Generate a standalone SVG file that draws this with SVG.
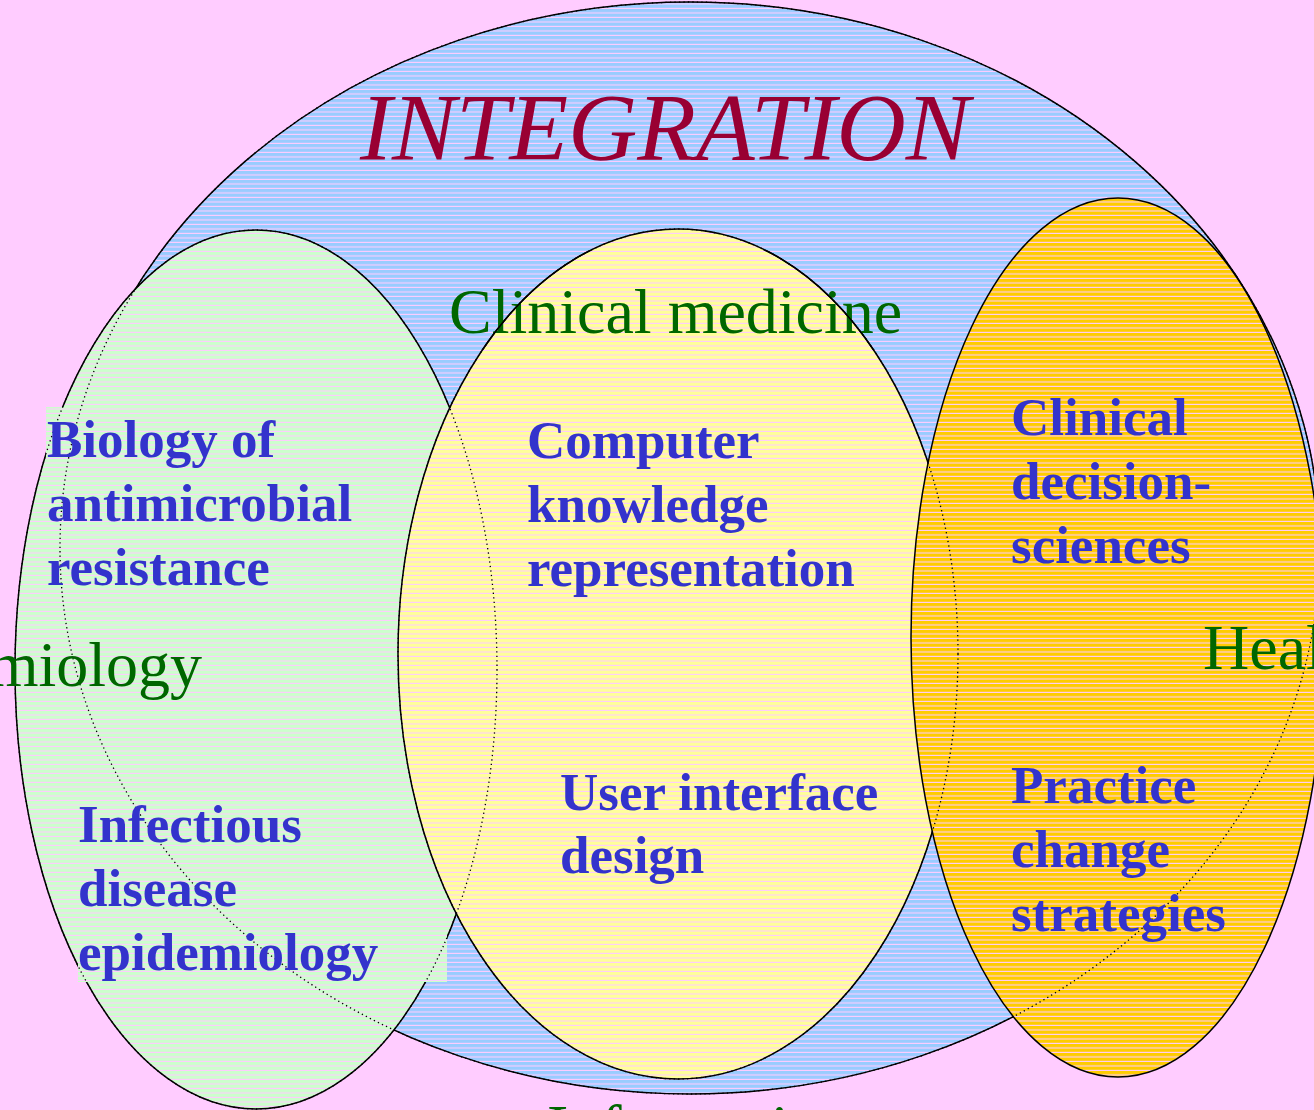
<svg xmlns="http://www.w3.org/2000/svg" width="1314" height="1110" viewBox="0 0 1314 1110">
  <defs>
    <pattern id="pBlue" width="10" height="4.5" patternUnits="userSpaceOnUse">
      <rect width="10" height="4.5" fill="#99CCFF"/>
      <rect y="3.4" width="10" height="1.1" fill="#FFCCFF"/>
    </pattern>
    <pattern id="pGreen" width="10" height="4.5" patternUnits="userSpaceOnUse">
      <rect width="10" height="4.5" fill="#CCFFCC"/>
      <rect y="3.4" width="10" height="1.1" fill="#FFCCFF"/>
    </pattern>
    <pattern id="pYellow" width="10" height="4.5" patternUnits="userSpaceOnUse">
      <rect width="10" height="4.5" fill="#FFFF99"/>
      <rect y="3.4" width="10" height="1.1" fill="#FFCCFF"/>
    </pattern>
    <pattern id="pOrange" width="10" height="4.5" patternUnits="userSpaceOnUse">
      <rect width="10" height="4.5" fill="#FFCC00"/>
      <rect y="3.4" width="10" height="1.1" fill="#FFCCFF"/>
    </pattern>
    <clipPath id="clipTop">
      <rect x="380" y="250" width="600" height="100"/>
    </clipPath>
  </defs>
  <style>
    .outline { stroke: #000000; stroke-width: 1.5; }
    .hidden { fill: none; stroke: #000000; stroke-width: 1.3; stroke-dasharray: 1.3 3.2; }
    .area { font-family: "Liberation Serif", "Times New Roman", serif; font-size: 64px; fill: #006600; }
    .topic { font-family: "Liberation Serif", "Times New Roman", serif; font-size: 53px; font-weight: bold; fill: #3333CC; }
    .title { font-family: "Liberation Serif", "Times New Roman", serif; font-size: 96px; font-style: italic; fill: #990033; }
  </style>

  <rect x="0" y="0" width="1314" height="1110" fill="#FFCCFF"/>

  <g id="integration">
    <ellipse cx="690" cy="548" rx="630" ry="546" fill="url(#pBlue)" class="outline"/>
  </g>

  <g id="epidemiology">
    <ellipse cx="256" cy="669.5" rx="241" ry="439.5" fill="url(#pGreen)" class="outline"/>
    <rect x="46" y="407" width="320" height="190" fill="url(#pGreen)"/>
    <rect x="78" y="795" width="369" height="187" fill="url(#pGreen)"/>
  </g>

  <g id="clinical-medicine">
    <ellipse cx="678" cy="654" rx="280" ry="425" fill="url(#pYellow)" class="outline"/>
  </g>

  <g id="health">
    <ellipse cx="1118" cy="637.5" rx="207" ry="439.5" fill="url(#pOrange)" class="outline"/>
  </g>

  <g id="hidden-outlines">
    <ellipse cx="690" cy="548" rx="630" ry="546" class="hidden"/>
    <ellipse cx="256" cy="669.5" rx="241" ry="439.5" class="hidden"/>
    <ellipse cx="678" cy="654" rx="280" ry="425" class="hidden"/>
  </g>

  <g id="connectors"></g>

  <g id="labels">
    <text class="title" x="360" y="160">INTEGRATION</text>
    <text class="area" x="449" y="333">Clinical medicine</text>
    <text class="area" x="202" y="686" text-anchor="end">Epidemiology</text>
    <text class="area" x="1203" y="669">Health</text>
    <text class="area" x="547" y="1149">Informatics</text>

    <text class="topic" x="47" y="457">Biology of<tspan x="47" y="521">antimicrobial</tspan><tspan x="47" y="585">resistance</tspan></text>
    <text class="topic" x="78" y="842">Infectious<tspan x="78" y="906">disease</tspan><tspan x="78" y="970">epidemiology</tspan></text>
    <text class="topic" x="527" y="458">Computer<tspan x="527" y="522">knowledge</tspan><tspan x="527" y="586">representation</tspan></text>
    <text class="topic" x="560" y="810">User interface<tspan x="560" y="873">design</tspan></text>
    <text class="topic" x="1011" y="435">Clinical<tspan x="1011" y="499">decision-</tspan><tspan x="1011" y="563">sciences</tspan></text>
    <text class="topic" x="1011" y="803">Practice<tspan x="1011" y="867">change</tspan><tspan x="1011" y="931">strategies</tspan></text>
  </g>

  <g id="yellow-edge-over-text" clip-path="url(#clipTop)">
    <ellipse cx="678" cy="654" rx="280" ry="425" fill="none" class="outline"/>
  </g>
</svg>
